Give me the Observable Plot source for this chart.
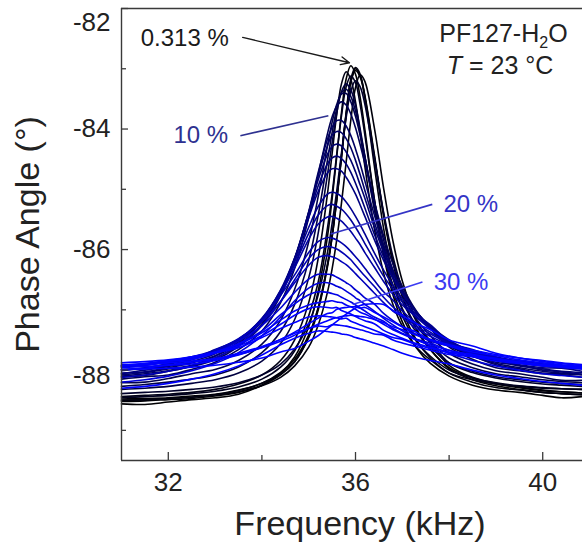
<!DOCTYPE html>
<html><head><meta charset="utf-8">
<script src="https://cdn.jsdelivr.net/npm/d3@7"></script>
<script src="https://cdn.jsdelivr.net/npm/@observablehq/plot@0.6"></script>
<style>
html,body{margin:0;padding:0;background:#fff;}
#chart svg{display:block;}
</style></head><body><div id="chart"></div>
<script>
// Frequency grid (kHz)
const freq = [31.0, 31.5, 32.0, 32.5, 33.0, 33.5, 34.0, 34.4, 34.7, 35.0, 35.2, 35.4, 35.5, 35.6, 35.7, 35.8, 35.9, 36.0, 36.1, 36.2, 36.4, 36.6, 36.8, 37.0, 37.3, 37.6, 38.0, 38.5, 39.0, 39.5, 40.0, 40.4, 40.85];
// PF127 concentration (%) of each spectrum, in drawing order
const conc = [0.313, 0.4, 0.625, 1.25, 1.8, 2.5, 3.5, 5, 7.5, 8, 9, 10, 11.5, 12, 13, 14, 15, 17, 18, 19, 20, 21, 22, 24.5, 25.5, 27, 29, 30, 32, 34, 35, 36, 37, 38];
// Phase angle (deg) spectra
const s01 = [-88.56,-88.57,-88.53,-88.49,-88.46,-88.40,-88.25,-88.05,-87.78,-87.28,-86.70,-85.79,-85.16,-84.45,-83.73,-83.17,-82.95,-83.09,-83.48,-84.01,-85.16,-86.09,-86.75,-87.20,-87.63,-87.89,-88.10,-88.25,-88.33,-88.37,-88.42,-88.46,-88.44];
const s02 = [-88.48,-88.47,-88.46,-88.43,-88.40,-88.33,-88.22,-88.04,-87.82,-87.42,-86.97,-86.25,-85.75,-85.14,-84.45,-83.75,-83.22,-83.03,-83.14,-83.47,-84.44,-85.44,-86.22,-86.78,-87.33,-87.66,-87.96,-88.13,-88.23,-88.29,-88.34,-88.36,-88.38];
const s03 = [-88.52,-88.51,-88.49,-88.47,-88.43,-88.37,-88.25,-88.08,-87.86,-87.46,-87.01,-86.29,-85.79,-85.18,-84.48,-83.77,-83.21,-83.00,-83.12,-83.44,-84.41,-85.41,-86.19,-86.76,-87.32,-87.66,-87.98,-88.16,-88.26,-88.32,-88.37,-88.39,-88.41];
const s04 = [-88.50,-88.49,-88.47,-88.45,-88.41,-88.36,-88.26,-88.12,-87.93,-87.62,-87.26,-86.71,-86.32,-85.83,-85.23,-84.55,-83.85,-83.31,-83.10,-83.21,-83.97,-84.98,-85.86,-86.52,-87.16,-87.56,-87.92,-88.12,-88.22,-88.28,-88.33,-88.36,-88.38];
const s05 = [-88.50,-88.49,-88.47,-88.45,-88.41,-88.34,-88.22,-88.06,-87.86,-87.44,-86.98,-86.26,-85.79,-85.16,-84.45,-83.73,-83.17,-82.98,-83.09,-83.48,-84.60,-85.65,-86.45,-87.00,-87.50,-87.80,-88.05,-88.20,-88.29,-88.33,-88.37,-88.39,-88.41];
const s06 = [-88.44,-88.42,-88.40,-88.37,-88.32,-88.23,-88.08,-87.84,-87.50,-86.88,-86.16,-85.08,-84.41,-83.75,-83.25,-83.05,-83.18,-83.55,-84.07,-84.62,-85.64,-86.39,-86.91,-87.27,-87.62,-87.83,-88.05,-88.16,-88.23,-88.27,-88.30,-88.31,-88.32];
const s07 = [-88.46,-88.44,-88.42,-88.39,-88.35,-88.28,-88.15,-87.95,-87.68,-87.10,-86.55,-85.65,-85.08,-84.41,-83.78,-83.30,-83.12,-83.23,-83.60,-84.10,-85.15,-86.05,-86.68,-87.10,-87.52,-87.77,-88.00,-88.13,-88.21,-88.26,-88.29,-88.31,-88.32];
const s08 = [-88.39,-88.37,-88.35,-88.32,-88.28,-88.21,-88.08,-87.90,-87.65,-87.23,-86.76,-86.05,-85.57,-85.02,-84.40,-83.81,-83.37,-83.20,-83.30,-83.59,-84.47,-85.38,-86.12,-86.66,-87.19,-87.52,-87.88,-88.04,-88.13,-88.19,-88.23,-88.25,-88.27];
const s09 = [-88.32,-88.30,-88.27,-88.22,-88.16,-88.05,-87.85,-87.56,-87.16,-86.47,-85.74,-84.76,-84.23,-83.73,-83.38,-83.25,-83.35,-83.61,-84.00,-84.45,-85.33,-86.05,-86.59,-86.98,-87.37,-87.62,-87.88,-88.02,-88.11,-88.16,-88.20,-88.22,-88.24];
const s10 = [-88.27,-88.24,-88.20,-88.15,-88.08,-87.95,-87.71,-87.36,-86.91,-86.18,-85.44,-84.52,-84.06,-83.66,-83.40,-83.34,-83.46,-83.70,-84.05,-84.46,-85.27,-85.95,-86.47,-86.86,-87.26,-87.53,-87.80,-87.96,-88.06,-88.11,-88.16,-88.19,-88.21];
const s11 = [-88.21,-88.20,-88.14,-88.06,-87.99,-87.84,-87.57,-87.17,-86.66,-85.87,-85.13,-84.28,-83.89,-83.59,-83.42,-83.41,-83.55,-83.79,-84.11,-84.47,-85.20,-85.84,-86.35,-86.74,-87.15,-87.43,-87.72,-87.90,-88.01,-88.06,-88.12,-88.17,-88.17];
const s12 = [-88.15,-88.11,-88.08,-87.99,-87.87,-87.66,-87.35,-86.88,-86.31,-85.47,-84.77,-84.08,-83.80,-83.62,-83.55,-83.60,-83.75,-83.98,-84.26,-84.57,-85.20,-85.77,-86.24,-86.61,-87.02,-87.31,-87.62,-87.82,-87.96,-88.01,-88.06,-88.08,-88.12];
const s13 = [-88.11,-88.09,-88.02,-87.94,-87.83,-87.61,-87.26,-86.76,-86.18,-85.37,-84.73,-84.17,-83.97,-83.86,-83.86,-83.95,-84.11,-84.33,-84.58,-84.86,-85.42,-85.92,-86.34,-86.67,-87.04,-87.31,-87.60,-87.76,-87.91,-87.98,-88.05,-88.06,-88.08];
const s14 = [-88.10,-88.06,-88.01,-87.93,-87.80,-87.59,-87.23,-86.74,-86.16,-85.38,-84.78,-84.28,-84.10,-84.04,-84.06,-84.16,-84.31,-84.52,-84.76,-85.02,-85.54,-86.00,-86.38,-86.70,-87.05,-87.31,-87.58,-87.77,-87.89,-87.96,-88.02,-88.05,-88.07];
const s15 = [-88.08,-88.04,-87.98,-87.92,-87.77,-87.56,-87.18,-86.70,-86.14,-85.39,-84.85,-84.42,-84.29,-84.25,-84.28,-84.38,-84.52,-84.71,-84.93,-85.15,-85.62,-86.04,-86.39,-86.69,-87.03,-87.28,-87.56,-87.75,-87.87,-87.92,-88.00,-88.03,-88.07];
const s16 = [-88.05,-88.03,-87.96,-87.88,-87.76,-87.53,-87.19,-86.70,-86.15,-85.45,-84.95,-84.58,-84.48,-84.45,-84.49,-84.58,-84.72,-84.90,-85.10,-85.31,-85.74,-86.12,-86.45,-86.72,-87.04,-87.29,-87.54,-87.74,-87.84,-87.93,-87.98,-88.02,-88.04];
const s17 = [-88.06,-88.00,-87.94,-87.86,-87.73,-87.50,-87.16,-86.67,-86.14,-85.47,-85.04,-84.73,-84.66,-84.66,-84.70,-84.80,-84.93,-85.08,-85.26,-85.45,-85.83,-86.18,-86.48,-86.74,-87.04,-87.27,-87.50,-87.71,-87.83,-87.91,-87.96,-87.97,-88.02];
const s18 = [-88.01,-87.97,-87.93,-87.83,-87.70,-87.50,-87.14,-86.68,-86.20,-85.63,-85.29,-85.08,-85.05,-85.07,-85.12,-85.21,-85.32,-85.45,-85.59,-85.74,-86.05,-86.34,-86.59,-86.81,-87.08,-87.25,-87.52,-87.69,-87.83,-87.87,-87.93,-87.96,-87.97];
const s19 = [-88.00,-87.96,-87.90,-87.82,-87.69,-87.49,-87.15,-86.70,-86.25,-85.73,-85.43,-85.27,-85.25,-85.28,-85.33,-85.41,-85.51,-85.63,-85.76,-85.90,-86.17,-86.44,-86.66,-86.87,-87.11,-87.30,-87.52,-87.68,-87.80,-87.86,-87.92,-87.95,-87.98];
const s20 = [-87.99,-87.97,-87.89,-87.81,-87.66,-87.49,-87.16,-86.73,-86.30,-85.83,-85.58,-85.46,-85.45,-85.48,-85.53,-85.61,-85.70,-85.81,-85.92,-86.05,-86.29,-86.53,-86.74,-86.92,-87.12,-87.32,-87.53,-87.69,-87.79,-87.88,-87.91,-87.94,-87.97];
const s21 = [-87.95,-87.92,-87.86,-87.81,-87.67,-87.48,-87.17,-86.76,-86.42,-86.05,-85.87,-85.80,-85.81,-85.84,-85.89,-85.95,-86.03,-86.12,-86.21,-86.31,-86.51,-86.70,-86.84,-87.02,-87.22,-87.37,-87.55,-87.66,-87.78,-87.85,-87.90,-87.95,-87.96];
const s22 = [-88.12,-88.08,-88.02,-87.93,-87.80,-87.58,-87.26,-86.86,-86.50,-86.15,-86.00,-85.95,-85.96,-85.99,-86.04,-86.10,-86.17,-86.26,-86.35,-86.44,-86.61,-86.79,-86.95,-87.08,-87.27,-87.40,-87.56,-87.70,-87.79,-87.86,-87.91,-87.93,-87.96];
const s23 = [-87.94,-87.90,-87.87,-87.78,-87.67,-87.49,-87.19,-86.86,-86.55,-86.26,-86.13,-86.10,-86.12,-86.15,-86.20,-86.25,-86.32,-86.40,-86.48,-86.56,-86.72,-86.88,-87.02,-87.12,-87.31,-87.44,-87.58,-87.71,-87.82,-87.86,-87.90,-87.93,-87.97];
const s24 = [-87.93,-87.90,-87.85,-87.78,-87.70,-87.52,-87.26,-86.97,-86.71,-86.49,-86.41,-86.41,-86.42,-86.46,-86.50,-86.55,-86.60,-86.67,-86.73,-86.80,-86.90,-87.06,-87.18,-87.28,-87.41,-87.52,-87.60,-87.73,-87.80,-87.88,-87.93,-87.95,-87.97];
const s25 = [-88.20,-88.16,-88.10,-88.01,-87.89,-87.71,-87.43,-87.12,-86.85,-86.64,-86.56,-86.55,-86.57,-86.61,-86.64,-86.69,-86.74,-86.80,-86.85,-86.91,-87.02,-87.14,-87.25,-87.35,-87.49,-87.60,-87.72,-87.84,-87.93,-88.00,-88.06,-88.09,-88.12];
const s26 = [-87.93,-87.92,-87.86,-87.80,-87.71,-87.56,-87.35,-87.08,-86.90,-86.75,-86.70,-86.71,-86.73,-86.75,-86.79,-86.83,-86.87,-86.92,-86.97,-87.02,-87.12,-87.19,-87.31,-87.39,-87.49,-87.55,-87.67,-87.75,-87.81,-87.88,-87.92,-87.95,-87.97];
const s27 = [-87.91,-87.89,-87.84,-87.79,-87.70,-87.57,-87.38,-87.17,-87.02,-86.92,-86.88,-86.86,-86.85,-86.87,-86.88,-86.92,-86.95,-86.99,-87.04,-87.07,-87.15,-87.24,-87.33,-87.40,-87.50,-87.58,-87.67,-87.75,-87.81,-87.86,-87.91,-87.93,-87.96];
const s28 = [-87.92,-87.89,-87.85,-87.82,-87.72,-87.60,-87.43,-87.24,-87.09,-86.98,-86.95,-86.96,-86.97,-86.96,-87.01,-87.04,-87.07,-87.11,-87.15,-87.18,-87.23,-87.34,-87.41,-87.47,-87.56,-87.62,-87.70,-87.74,-87.82,-87.88,-87.92,-87.94,-87.96];
const s29 = [-87.88,-87.86,-87.83,-87.78,-87.71,-87.63,-87.46,-87.31,-87.21,-87.12,-87.10,-87.11,-87.12,-87.13,-87.15,-87.14,-87.19,-87.22,-87.25,-87.28,-87.34,-87.40,-87.46,-87.49,-87.58,-87.64,-87.71,-87.77,-87.82,-87.87,-87.91,-87.93,-87.96];
const s30 = [-87.99,-87.97,-87.92,-87.90,-87.84,-87.75,-87.62,-87.49,-87.39,-87.31,-87.27,-87.28,-87.25,-87.25,-87.26,-87.27,-87.29,-87.31,-87.33,-87.35,-87.40,-87.42,-87.50,-87.55,-87.61,-87.67,-87.74,-87.78,-87.85,-87.89,-87.93,-87.95,-87.98];
const s31 = [-88.30,-88.27,-88.22,-88.15,-88.06,-87.93,-87.75,-87.58,-87.47,-87.39,-87.35,-87.36,-87.37,-87.38,-87.40,-87.41,-87.43,-87.46,-87.48,-87.50,-87.55,-87.60,-87.66,-87.72,-87.79,-87.84,-87.90,-88.00,-88.08,-88.14,-88.19,-88.22,-88.25];
const s32 = [-87.93,-87.91,-87.88,-87.85,-87.81,-87.72,-87.61,-87.49,-87.37,-87.23,-87.14,-87.06,-87.05,-86.99,-86.97,-86.96,-86.95,-86.95,-86.97,-86.96,-87.04,-87.12,-87.20,-87.28,-87.37,-87.50,-87.60,-87.70,-87.76,-87.83,-87.88,-87.91,-87.94];
const s33 = [-87.96,-87.94,-87.91,-87.87,-87.82,-87.74,-87.63,-87.52,-87.42,-87.31,-87.24,-87.18,-87.15,-87.13,-87.11,-87.10,-87.09,-87.10,-87.11,-87.12,-87.16,-87.21,-87.28,-87.33,-87.42,-87.49,-87.58,-87.67,-87.74,-87.80,-87.84,-87.88,-87.91];
const s34 = [-87.99,-87.98,-87.97,-87.95,-87.92,-87.87,-87.80,-87.70,-87.64,-87.52,-87.43,-87.31,-87.25,-87.19,-87.13,-87.07,-87.02,-86.97,-86.93,-86.91,-86.90,-86.91,-87.01,-87.09,-87.23,-87.33,-87.50,-87.60,-87.72,-87.80,-87.86,-87.89,-87.93];
const spectra = [s01,s02,s03,s04,s05,s06,s07,s08,s09,s10,s11,s12,s13,s14,s15,s16,s17,s18,s19,s20,s21,s22,s23,s24,s25,s26,s27,s28,s29,s30,s31,s32,s33,s34];

// Axis ticks
const xMajor = [32, 36, 40];
const xMinor = [34, 38];
const yMajor = [-82, -84, -86, -88];
const yMinor = [-83, -85, -87, -89];

// Annotations (data coordinates)
const labelTexts = ["0.313 %", "10 %", "20 %", "30 %"];
const labelF = [31.41, 32.11, 37.88, 37.67];
const labelV = [-82.49, -84.10, -85.25, -86.55];
const labelColors = ["#1a1a1a", "#2e3190", "#3434c6", "#3b3bf2"];
const leaderF1 = [33.59, 33.54, 37.64, 37.43];
const leaderV1 = [-82.48, -84.11, -85.25, -86.54];
const leaderF2 = [35.87, 35.42, 35.47, 35.94];
const leaderV2 = [-82.90, -83.78, -85.74, -86.91];

const rows = spectra.flatMap((vals, i) => vals.map((v, j) => ({f: freq[j], v, c: conc[i], id: i})));
const notes = labelTexts.map((t, i) => ({t, f: labelF[i], v: labelV[i], col: labelColors[i], f1: leaderF1[i], v1: leaderV1[i], f2: leaderF2[i], v2: leaderV2[i]}));
const info = [{t: "PF127-H2O", f: 39.16, v: -82.43}, {t: "T = 23 °C", f: 39.09, v: -82.96}];

const font = "'Liberation Sans', Arial, Helvetica, sans-serif";
const axisColor = "#3a3a3a";

const chart = Plot.plot({
  width: 582, height: 551,
  marginLeft: 121, marginRight: 0, marginTop: 8, marginBottom: 91,
  style: {fontFamily: font, background: "#fff", color: "#222"},
  x: {domain: [31, 40.85], axis: null},
  y: {domain: [-89.5, -82], axis: null},
  color: {type: "linear", domain: [0, 30], range: ["#000000", "#0000ff"], interpolate: "rgb", clamp: true},
  marks: [
    Plot.line(rows, {x: "f", y: "v", z: "id", stroke: "c", strokeWidth: 1.6, curve: "catmull-rom"}),
    // frame (left, top, bottom)
    Plot.ruleX([31], {stroke: axisColor, strokeWidth: 1.4}),
    Plot.ruleY([-82, -89.5], {stroke: axisColor, strokeWidth: 1.4}),
    // inward ticks
    Plot.ruleX(xMajor, {x: d => d, insetTop: 444, stroke: axisColor, strokeWidth: 1.3}),
    Plot.ruleX(xMinor, {x: d => d, insetTop: 447, stroke: axisColor, strokeWidth: 1.3}),
    Plot.ruleY(yMajor, {y: d => d, insetRight: 454, stroke: axisColor, strokeWidth: 1.3}),
    Plot.ruleY(yMinor, {y: d => d, insetRight: 456, stroke: axisColor, strokeWidth: 1.3}),
    // tick labels
    Plot.text(xMajor, {x: d => d, frameAnchor: "bottom", dy: 12, lineAnchor: "top", text: d => String(d), fontSize: 26, fill: "#222"}),
    Plot.text(yMajor.filter(d => d === -84 || d === -86), {y: d => d, frameAnchor: "left", dx: -11, textAnchor: "end", lineAnchor: "middle", text: d => String(d), fontSize: 26, fill: "#222"}),
    Plot.text(yMajor.filter(d => d === -88), {y: d => d, frameAnchor: "left", dx: -11, dy: 6, textAnchor: "end", lineAnchor: "middle", text: d => String(d), fontSize: 26, fill: "#222"}),
    Plot.text(yMajor.filter(d => d === -82), {y: d => d, frameAnchor: "left", dx: -11, dy: 14, textAnchor: "end", lineAnchor: "middle", text: d => String(d), fontSize: 26, fill: "#222"}),
    // axis titles
    Plot.text(["Frequency (kHz)"], {frameAnchor: "bottom", dx: 8, dy: 64, textAnchor: "middle", lineAnchor: "middle", text: d => d, fontSize: 34, fill: "#222"}),
    Plot.text(["Phase Angle (°)"], {frameAnchor: "left", dx: -93, dy: 0, rotate: -90, textAnchor: "middle", lineAnchor: "middle", text: d => d, fontSize: 34, fill: "#222"}),
    // annotations
    Plot.link(notes.slice(1), {x1: "f1", y1: "v1", x2: "f2", y2: "v2", stroke: "col", strokeWidth: 1.6}),
    Plot.arrow(notes.slice(0, 1), {x1: "f1", y1: "v1", x2: "f2", y2: "v2", stroke: "#1a1a1a", strokeWidth: 1.4, headLength: 10, headAngle: 50}),
    Plot.text(notes, {x: "f", y: "v", text: "t", fill: "col", textAnchor: "start", fontSize: 24}),
    Plot.text(info, {x: "f", y: "v", text: "t", fill: "#222", textAnchor: "middle", fontSize: 25})
  ]
});

d3.select(chart).selectAll("text").each(function() {
  const s = this.textContent;
  if (s === "PF127-H2O") {
    this.innerHTML = 'PF127-H<tspan dy="6" font-size="16">2</tspan><tspan dy="-6">O</tspan>';
  } else if (s === "T = 23 °C") {
    this.innerHTML = '<tspan font-style="italic">T</tspan> = 23 °C';
  }
});

document.getElementById("chart").appendChild(chart);
</script>
</body></html>
